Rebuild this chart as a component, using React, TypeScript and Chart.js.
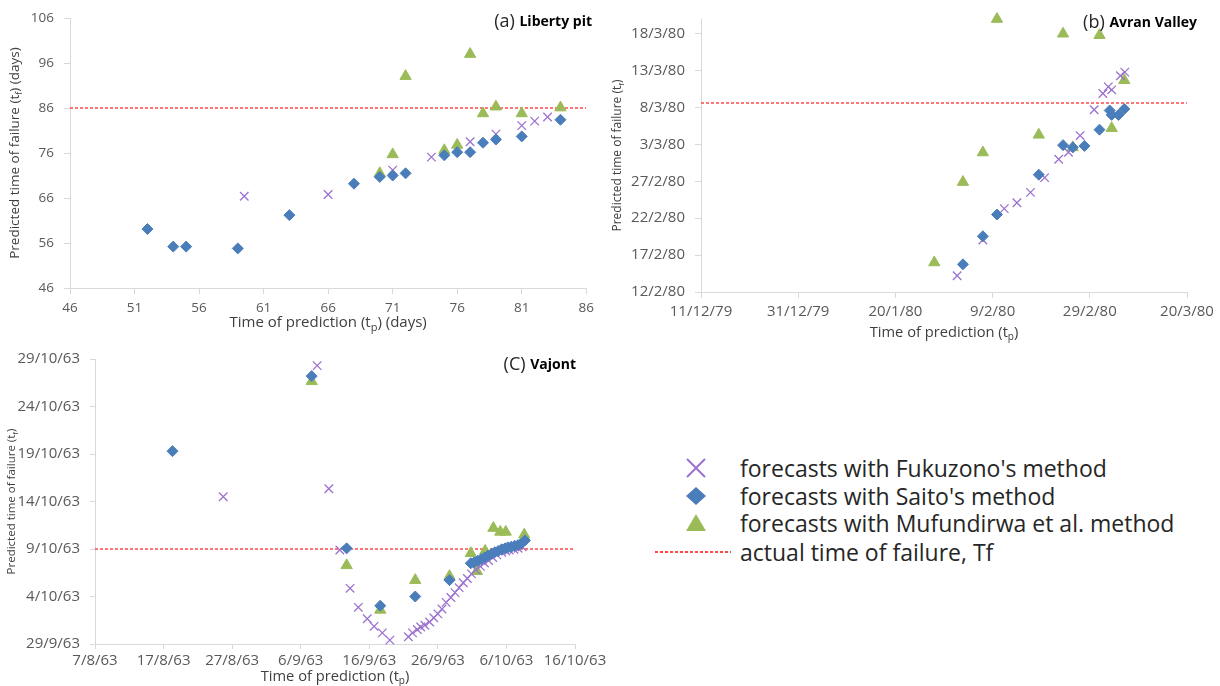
import React, { useEffect, useRef } from 'react';
import { Chart, registerables } from 'chart.js';
Chart.register(...registerables);

// ---------- (a) Liberty pit (days) ----------
const libertyFukX = [59.5, 66, 71, 74, 77, 79, 81, 82, 83];
const libertyFukY = [66.4, 66.8, 72.2, 75.1, 78.5, 80.2, 82.1, 83.1, 84.0];
const libertySaitoX = [52, 54, 55, 59, 63, 68, 70, 71, 72, 75, 76, 77, 78, 79, 81, 84];
const libertySaitoY = [59.1, 55.2, 55.2, 54.8, 62.2, 69.2, 70.7, 71.0, 71.5, 75.5, 76.2, 76.2, 78.3, 79.0, 79.7, 83.4];
const libertyMufX = [70, 71, 72, 75, 76, 77, 78, 79, 81, 84];
const libertyMufY = [71.5, 75.7, 93.1, 76.6, 77.8, 98.0, 84.8, 86.3, 84.8, 86.1];
const libertyTf = 86;
const libertyXLabels = ['46', '51', '56', '61', '66', '71', '76', '81', '86'];
const libertyYLabels = ['46', '56', '66', '76', '86', '96', '106'];

// ---------- (b) Avran Valley (x: days after 11/12/79, y: days after 12/2/80) ----------
const avranFukX = [52.7, 58.0, 62.4, 65.0, 67.8, 70.7, 73.6, 75.6, 78.0, 80.9, 82.7, 83.8, 84.5, 86.3, 87.2];
const avranFukY = [2.2, 7.05, 11.3, 12.1, 13.5, 15.5, 18.0, 18.95, 21.2, 24.7, 26.9, 27.8, 27.4, 29.3, 29.8];
const avranSaitoX = [53.9, 58.0, 60.9, 69.5, 74.5, 76.5, 78.9, 82.0, 84.1, 84.5, 85.9, 87.1];
const avranSaitoY = [3.75, 7.55, 10.5, 15.9, 19.9, 19.6, 19.8, 22.0, 24.6, 24.0, 24.0, 24.8];
const avranMufX = [48.0, 53.9, 58.0, 60.9, 69.5, 74.5, 76.5, 82.0, 84.5, 87.1];
const avranMufY = [4.0, 14.9, 18.9, 37.0, 21.3, 35.0, 19.6, 34.8, 22.2, 28.7];
const avranTf = 25.6;
const avranXLabels = ['11/12/79', '31/12/79', '20/1/80', '9/2/80', '29/2/80', '20/3/80'];
const avranYLabels = ['12/2/80', '17/2/80', '22/2/80', '27/2/80', '3/3/80', '8/3/80', '13/3/80', '18/3/80'];

// ---------- (c) Vajont (x: days after 7/8/63, y: days after 29/9/63) ----------
const vajontFukX = [18.7, 32.4, 34.1, 35.7, 37.2, 38.4, 39.7, 40.7, 41.9, 43.0, 45.7, 46.3, 47.0, 47.5, 48.1, 48.8, 49.4, 50.0, 50.6, 51.2, 51.9, 52.5, 53.1, 53.7, 54.3, 54.9, 55.5, 56.2, 56.8, 57.4, 58.0, 58.6, 59.3, 59.9, 60.4, 61.1, 61.7, 62.3];
const vajontFukY = [15.5, 29.3, 16.35, 9.9, 5.86, 3.86, 2.66, 1.86, 1.17, 0.41, 0.76, 1.17, 1.52, 1.79, 1.97, 2.31, 2.76, 3.17, 3.69, 4.38, 4.9, 5.41, 5.93, 6.45, 6.9, 7.38, 7.83, 8.17, 8.52, 8.79, 9.1, 9.38, 9.66, 9.79, 9.9, 9.97, 10.07, 10.24];
const vajontSaitoX = [11.3, 31.6, 36.7, 41.6, 46.7, 51.7, 54.8, 55.3, 55.8, 56.3, 56.8, 57.3, 57.8, 58.3, 58.8, 59.3, 59.8, 60.2, 60.7, 61.2, 61.7, 62.2, 62.7];
const vajontSaitoY = [20.3, 28.2, 10.07, 4.03, 5.0, 6.72, 8.5, 8.6, 8.76, 8.93, 9.1, 9.3, 9.48, 9.66, 9.79, 9.97, 10.07, 10.17, 10.24, 10.34, 10.41, 10.59, 10.9];
const vajontMufX = [31.6, 36.7, 41.6, 46.7, 51.7, 54.8, 55.7, 56.9, 58.1, 59.1, 59.9, 62.6];
const vajontMufY = [27.65, 8.28, 3.59, 6.72, 7.14, 9.55, 7.66, 9.79, 12.2, 11.8, 11.8, 11.5];
const vajontTf = 10;
const vajontXLabels = ['7/8/63', '17/8/63', '27/8/63', '6/9/63', '16/9/63', '26/9/63', '6/10/63', '16/10/63'];
const vajontYLabels = ['29/9/63', '4/10/63', '9/10/63', '14/10/63', '19/10/63', '24/10/63', '29/10/63'];

const legendLabels = [
  "forecasts with Fukuzono's method",
  "forecasts with Saito's method",
  'forecasts with Mufundirwa et al. method',
  'actual time of failure, Tf',
];

const FONT = '"Open Sans", "Noto Sans", sans-serif';
const PURPLE = '#9b72cf';
const BLUE = '#4a7ebb';
const GREEN = '#9bbb59';
const RED = '#ff4a4a';
const AXIS = '#d9d9d9';
const TICK = '#595959';

type Part = { t: string; sub?: boolean };

function drawParts(ctx: CanvasRenderingContext2D, parts: Part[], cx: number, cy: number, rot: boolean, size: number, color: string) {
  ctx.save();
  ctx.translate(cx, cy);
  if (rot) ctx.rotate(-Math.PI / 2);
  const main = `${size}px ${FONT}`;
  const sub = `${Math.round(size * 0.7)}px ${FONT}`;
  let total = 0;
  const widths = parts.map((p) => {
    ctx.font = p.sub ? sub : main;
    const w = ctx.measureText(p.t).width;
    total += w;
    return w;
  });
  let x = -total / 2;
  ctx.fillStyle = color;
  ctx.textBaseline = 'middle';
  ctx.textAlign = 'left';
  parts.forEach((p, i) => {
    ctx.font = p.sub ? sub : main;
    ctx.fillText(p.t, x, p.sub ? size * 0.3 : 0);
    x += widths[i];
  });
  ctx.restore();
}

function drawPanelLabel(ctx: CanvasRenderingContext2D, tag: string, name: string, right: number, cy: number, scale: number) {
  ctx.save();
  ctx.textBaseline = 'middle';
  ctx.textAlign = 'left';
  const f1 = `${Math.round(18 * scale)}px ${FONT}`;
  const f2 = `bold ${Math.round(14 * scale)}px ${FONT}`;
  ctx.font = f1;
  const w1 = ctx.measureText(tag + ' ').width;
  ctx.font = f2;
  const w2 = ctx.measureText(name).width;
  const x0 = right - w1 - w2;
  ctx.font = f1;
  ctx.fillStyle = '#262626';
  ctx.fillText(tag + ' ', x0, cy);
  ctx.font = f2;
  ctx.fillStyle = '#000';
  ctx.fillText(name, x0 + w1, cy);
  ctx.restore();
}

type Spec = {
  fuk: [number[], number[]];
  saito: [number[], number[]];
  muf: [number[], number[]];
  tf: number;
  xMin: number; xMax: number; xStep: number; xLabels: string[];
  yMin: number; yMax: number; yStep: number; yLabels: string[];
  yW: number; xH: number;
  pad: { left: number; right: number; top: number; bottom: number };
  tickSize: number; xTickPad: number; yTickPad: number; tickLen: number;
  yTitle: Part[]; xTitle: Part[];
  yTitleSize: number; xTitleSize: number;
  yTitleX: number; xTitleY: number;
  tag: string; name: string; labelRight: number; labelY: number; labelScale: number;
};

const zip = (xs: number[], ys: number[]) => xs.map((x, i) => ({ x, y: ys[i] }));

function makeConfig(s: Spec): any {
  const tickFont = { family: FONT, size: s.tickSize };
  const overlay = {
    id: 'overlay',
    afterDraw(chart: any) {
      const ctx = chart.ctx as CanvasRenderingContext2D;
      const a = chart.chartArea;
      drawParts(ctx, s.yTitle, s.yTitleX, (a.top + a.bottom) / 2, true, s.yTitleSize, '#404040');
      drawParts(ctx, s.xTitle, (a.left + a.right) / 2, s.xTitleY, false, s.xTitleSize, '#404040');
      drawPanelLabel(ctx, s.tag, s.name, s.labelRight, s.labelY, s.labelScale);
    },
  };
  return {
    type: 'scatter',
    data: {
      datasets: [
        {
          label: 'Tf',
          data: [{ x: s.xMin, y: s.tf }, { x: s.xMax, y: s.tf }],
          showLine: true,
          borderColor: RED,
          borderWidth: 1.5,
          borderDash: [3, 2],
          pointRadius: 0,
          order: 4,
        },
        {
          label: 'Mufundirwa',
          data: zip(s.muf[0], s.muf[1]),
          pointStyle: 'triangle',
          pointRadius: 6.5,
          backgroundColor: GREEN,
          borderColor: GREEN,
          borderWidth: 1,
          order: 3,
          clip: false,
        },
        {
          label: 'Fukuzono',
          data: zip(s.fuk[0], s.fuk[1]),
          pointStyle: 'crossRot',
          pointRadius: 6,
          borderColor: PURPLE,
          borderWidth: 1.3,
          order: 2,
          clip: false,
        },
        {
          label: 'Saito',
          data: zip(s.saito[0], s.saito[1]),
          pointStyle: 'rectRot',
          pointRadius: 5.5,
          backgroundColor: BLUE,
          borderColor: BLUE,
          borderWidth: 1,
          order: 1,
          clip: false,
        },
      ],
    },
    options: {
      animation: false,
      responsive: false,
      events: [],
      layout: { padding: s.pad },
      plugins: { legend: { display: false }, tooltip: { enabled: false }, title: { display: false } },
      scales: {
        x: {
          type: 'linear',
          min: s.xMin,
          max: s.xMax,
          afterBuildTicks: (sc: any) => {
            sc.ticks = s.xLabels.map((_, i) => ({ value: s.xMin + i * s.xStep }));
          },
          afterFit: (sc: any) => { sc.height = s.xH; },
          ticks: {
            callback: (_v: any, i: number) => s.xLabels[i],
            font: tickFont,
            color: TICK,
            padding: s.xTickPad,
            maxRotation: 0,
            autoSkip: false,
          },
          grid: { display: true, drawOnChartArea: false, drawTicks: true, tickLength: s.tickLen, color: AXIS },
          border: { display: true, color: AXIS },
        },
        y: {
          type: 'linear',
          min: s.yMin,
          max: s.yMax,
          afterBuildTicks: (sc: any) => {
            sc.ticks = s.yLabels.map((_, i) => ({ value: s.yMin + i * s.yStep }));
          },
          afterFit: (sc: any) => { sc.width = s.yW; },
          ticks: {
            callback: (_v: any, i: number) => s.yLabels[i],
            font: tickFont,
            color: TICK,
            padding: s.yTickPad,
            autoSkip: false,
          },
          grid: { display: true, drawOnChartArea: false, drawTicks: true, tickLength: s.tickLen, color: AXIS },
          border: { display: true, color: AXIS },
        },
      },
    },
    plugins: [overlay],
  };
}

const specA: Spec = {
  fuk: [libertyFukX, libertyFukY],
  saito: [libertySaitoX, libertySaitoY],
  muf: [libertyMufX, libertyMufY],
  tf: libertyTf,
  xMin: 46, xMax: 86, xStep: 5, xLabels: libertyXLabels,
  yMin: 46, yMax: 106, yStep: 10, yLabels: libertyYLabels,
  yW: 70, xH: 52,
  pad: { left: 0, right: 10, top: 15, bottom: 0 },
  tickSize: 13.5, xTickPad: 6, yTickPad: 10, tickLen: 6,
  yTitle: [{ t: 'Predicted time of failure (t' }, { t: 'f', sub: true }, { t: ') (days)' }],
  xTitle: [{ t: 'Time of prediction (t' }, { t: 'p', sub: true }, { t: ') (days)' }],
  yTitleSize: 13.5, xTitleSize: 15,
  yTitleX: 15, xTitleY: 323,
  tag: '(a)', name: 'Liberty pit', labelRight: 592, labelY: 22, labelScale: 1,
};

const specB: Spec = {
  fuk: [avranFukX, avranFukY],
  saito: [avranSaitoX, avranSaitoY],
  muf: [avranMufX, avranMufY],
  tf: avranTf,
  xMin: 0, xMax: 100, xStep: 20, xLabels: avranXLabels,
  yMin: 0, yMax: 37, yStep: 5, yLabels: avranYLabels,
  yW: 101, xH: 53,
  pad: { left: 0, right: 33, top: 19, bottom: 0 },
  tickSize: 15, xTickPad: 5, yTickPad: 10, tickLen: 6,
  yTitle: [{ t: 'Predicted time of failure (t' }, { t: 'f', sub: true }, { t: ')' }],
  xTitle: [{ t: 'Time of prediction (t' }, { t: 'p', sub: true }, { t: ')' }],
  yTitleSize: 12, xTitleSize: 14.7,
  yTitleX: 18, xTitleY: 333,
  tag: '(b)', name: 'Avran Valley', labelRight: 597, labelY: 23, labelScale: 1,
};

const specC: Spec = {
  fuk: [vajontFukX, vajontFukY],
  saito: [vajontSaitoX, vajontSaitoY],
  muf: [vajontMufX, vajontMufY],
  tf: vajontTf,
  xMin: 0, xMax: 70, xStep: 10, xLabels: vajontXLabels,
  yMin: 0, yMax: 30, yStep: 5, yLabels: vajontYLabels,
  yW: 95, xH: 42,
  pad: { left: 0, right: 45, top: 14, bottom: 0 },
  tickSize: 15, xTickPad: 3, yTickPad: 10, tickLen: 5,
  yTitle: [{ t: 'Predicted time of failure (t' }, { t: 'f', sub: true }, { t: ')' }],
  xTitle: [{ t: 'Time of prediction (t' }, { t: 'p', sub: true }, { t: ')' }],
  yTitleSize: 11.5, xTitleSize: 14.7,
  yTitleX: 12, xTitleY: 337,
  tag: '(C)', name: 'Vajont', labelRight: 576, labelY: 25, labelScale: 1,
};

function Panel({ spec, left, top, width, height }: { spec: Spec; left: number; top: number; width: number; height: number }) {
  const ref = useRef<HTMLCanvasElement>(null);
  useEffect(() => {
    if (!ref.current) return;
    const chart = new Chart(ref.current, makeConfig(spec));
    return () => chart.destroy();
  }, [spec]);
  return (
    <canvas
      ref={ref}
      width={width}
      height={height}
      style={{ position: 'absolute', left, top, width, height }}
    />
  );
}

function LegendMarker({ kind }: { kind: number }) {
  if (kind === 0) {
    return (
      <svg width="22" height="22" viewBox="0 0 22 22">
        <path d="M2 2 L20 20 M20 2 L2 20" stroke={PURPLE} strokeWidth="2" />
      </svg>
    );
  }
  if (kind === 1) {
    return (
      <svg width="22" height="22" viewBox="0 0 22 22">
        <path d="M11 2 L21 11 L11 20 L1 11 Z" fill={BLUE} />
      </svg>
    );
  }
  if (kind === 2) {
    return (
      <svg width="22" height="22" viewBox="0 0 22 22">
        <path d="M11 2 L21 19 L1 19 Z" fill={GREEN} />
      </svg>
    );
  }
  return (
    <svg width="76" height="6" viewBox="0 0 76 6">
      <line x1="0" y1="3" x2="76" y2="3" stroke={RED} strokeWidth="2" strokeDasharray="3 2" />
    </svg>
  );
}

export default function App() {
  const rows = [468, 496, 523, 552];
  return (
    <div style={{ position: 'absolute', left: 0, top: 0, width: 1220, height: 686, background: '#fff', overflow: 'hidden' }}>
      <Panel spec={specA} left={0} top={0} width={600} height={340} />
      <Panel spec={specB} left={600} top={0} width={620} height={345} />
      <Panel spec={specC} left={0} top={340} width={620} height={346} />
      {legendLabels.map((lab, i) => (
        <React.Fragment key={lab}>
          <div
            style={{
              position: 'absolute',
              left: i === 3 ? 655 : 685,
              top: rows[i] - (i === 3 ? 3 : 11),
              lineHeight: 0,
            }}
          >
            <LegendMarker kind={i} />
          </div>
          <div
            style={{
              position: 'absolute',
              left: 740,
              top: rows[i] - 15,
              height: 30,
              lineHeight: '30px',
              fontFamily: FONT,
              fontSize: 23,
              color: '#262626',
              whiteSpace: 'nowrap',
            }}
          >
            {lab}
          </div>
        </React.Fragment>
      ))}
    </div>
  );
}
